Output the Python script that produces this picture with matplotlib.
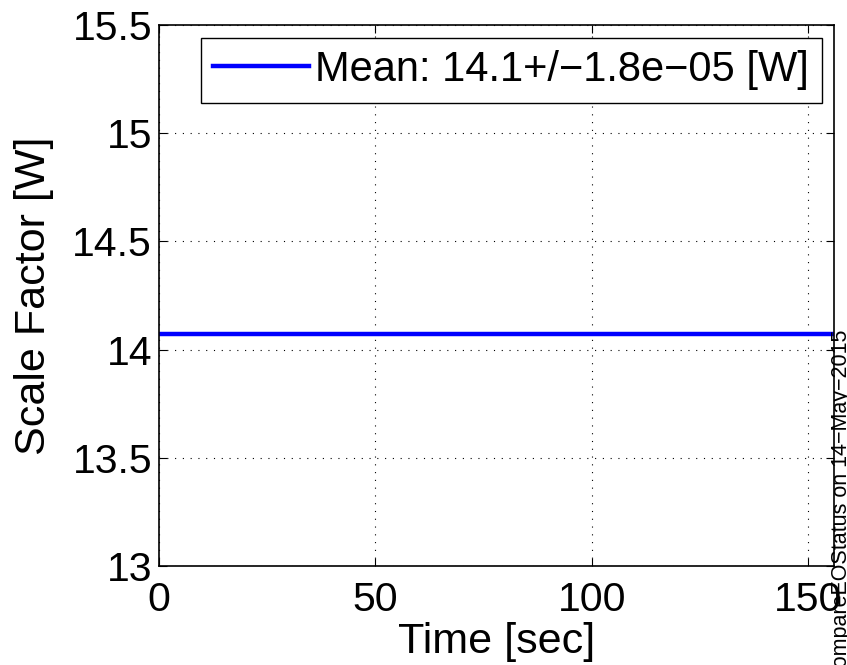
import matplotlib
matplotlib.use('Agg')
import matplotlib.pyplot as plt

# data
time_sec = [0, 155.9]
scale_factor = [14.07, 14.07]
legend_label = 'Mean: 14.1+/\u22121.8e\u221205 [W]'
xticks = [0, 50, 100, 150]
yticks = [13, 13.5, 14, 14.5, 15, 15.5]
ytick_labels = ['13', '13.5', '14', '14.5', '15', '15.5']
stamp = 'compareEOStatus on 14\u2212May\u22122015'

plt.rcParams['font.family'] = ['Liberation Sans', 'DejaVu Sans']

fig = plt.figure(figsize=(8.47, 6.65), dpi=100)
ax = fig.add_axes([0.1877, 0.1489, 0.797, 0.8135])

ax.plot(time_sec, scale_factor, color='#0000ff', lw=3.2, label=legend_label)

ax.set_xlim(0, 155.9)
ax.set_ylim(13, 15.5)
ax.set_xticks(xticks)
ax.set_yticks(yticks)
ax.set_yticklabels(ytick_labels)
ax.tick_params(direction='in', top=True, right=True, labelsize=29.5, length=6, width=0.8)
ax.tick_params(axis='x', pad=11)
ax.tick_params(axis='y', pad=5)
ax.grid(True, color='k', linestyle=(0, (1, 6)), linewidth=0.8)
for s in ax.spines.values():
  s.set_linewidth(1.2)

ax.set_xlabel('Time [sec]', fontsize=31, labelpad=2)
ax.set_ylabel('Scale Factor [W]', fontsize=31, labelpad=13)

leg = ax.legend(loc='upper right', fontsize=30, frameon=True, fancybox=False,
                handlelength=2.3, handletextpad=0.15, borderpad=0.3,
                borderaxespad=0.3, framealpha=1)
leg.get_frame().set_edgecolor('k')
leg.get_frame().set_linewidth(1.0)

fig.text(1.006, 0.504, stamp, rotation=90, rotation_mode='anchor',
         ha='right', va='bottom', fontsize=15.5)

fig.savefig('out.png', dpi=100)
